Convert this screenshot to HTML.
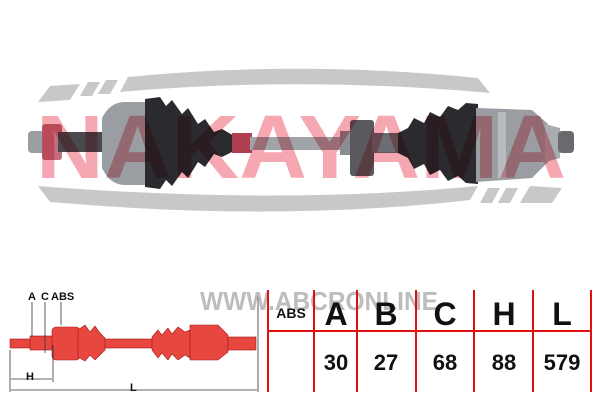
<!DOCTYPE html>
<html><head><meta charset="utf-8"><style>
html,body{margin:0;padding:0;background:#fff;}
svg{display:block}
text{font-family:"Liberation Sans",Arial,sans-serif;font-weight:bold}
</style></head><body>
<svg width="600" height="400" viewBox="0 0 600 400" xmlns="http://www.w3.org/2000/svg">
<rect width="600" height="400" fill="#fff"/>
<g fill="#c8c8c8">
<polygon points="38,102 50,86 80,84 70,100"/>
<polygon points="80,96 88,82 100,82 92,96"/>
<polygon points="98,94 106,80 118,80 110,94"/>
<path d="M120,92 L128,77 Q300,60 478,78 L490,93 Q300,76 120,92 Z"/>
<path d="M38,186 L50,202 Q280,222 470,200 L478,186 Q280,205 38,186 Z"/>
<polygon points="480,203 488,188 500,188 492,203"/>
<polygon points="498,203 506,188 518,188 510,203"/>
<polygon points="520,203 530,186 562,188 552,203"/>
</g>
<g>
<rect x="28" y="131" width="22" height="22" rx="4" fill="#9a9ea2"/>
<rect x="42" y="124" width="20" height="36" rx="3" fill="#c07080"/>
<rect x="58" y="132" width="45" height="20" fill="#4a4a4e"/>
<path d="M102,118 Q110,102 125,102 L150,102 L150,185 L125,185 Q110,185 102,168 Z" fill="#9a9ea2"/>
<path d="M145,99 L160,97 L166,106 L172,100 L182,114 L188,108 L198,124 L205,119 L214,132 L222,129 L236,137 L236,150 L222,157 L214,154 L205,167 L198,162 L188,178 L182,172 L172,186 L166,180 L160,189 L145,187 Z" fill="#2b2b2f"/>
<rect x="232" y="133" width="20" height="20" fill="#b04050"/>
<rect x="250" y="137" width="92" height="13" fill="#a0a4a8"/>
<rect x="340" y="131" width="12" height="24" fill="#8a8e92"/>
<rect x="350" y="120" width="24" height="56" rx="3" fill="#5a5a5e"/>
<rect x="372" y="133" width="30" height="20" fill="#6a6e72"/>
<path d="M398,133 L408,128 L414,118 L424,123 L430,112 L440,117 L448,106 L458,110 L466,103 L478,104 L478,184 L466,183 L458,176 L448,181 L440,170 L430,175 L424,164 L414,169 L408,158 L398,153 Z" fill="#2b2b2f"/>
<path d="M476,108 L532,110 L548,124 L548,162 L532,178 L476,182 Z" fill="#9a9ea2"/>
<rect x="498" y="112" width="8" height="66" fill="#b8bcc0"/>
<path d="M545,124 L560,128 L560,158 L545,162 Z" fill="#a8acb0"/>
<rect x="558" y="131" width="16" height="22" rx="4" fill="#6a6a6e"/>
</g>
<text x="36" y="178" font-size="90" fill="#f6a8b2" style="mix-blend-mode:multiply" textLength="530" lengthAdjust="spacingAndGlyphs">NAKAYAMA</text>
<g fill="#e8473f" stroke="#a01818" stroke-width="0.6">
<rect x="10" y="339" width="245" height="9"/>
<rect x="30" y="336" width="25" height="14"/>
<rect x="52" y="327" width="28" height="33" rx="4"/>
<path d="M78,330 L85,325 L90,332 L95,326 L100,333 L105,338 L105,350 L100,355 L95,360 L90,355 L85,361 L78,357 Z"/>
<path d="M152,337 L158,330 L162,335 L168,328 L172,334 L178,327 L185,332 L190,330 L190,358 L185,355 L178,360 L172,354 L168,360 L162,353 L158,358 L152,350 Z"/>
<path d="M190,325 L218,325 L228,335 L228,352 L218,360 L190,360 Z"/>
<rect x="228" y="337" width="28" height="13"/>
</g>
<g stroke="#333" stroke-width="0.8" fill="none">
<line x1="32" y1="302" x2="32" y2="337"/>
<line x1="45" y1="302" x2="45" y2="353"/>
<line x1="61" y1="302" x2="61" y2="325"/>
<line x1="53" y1="345" x2="53" y2="382"/>
<line x1="10" y1="350" x2="10" y2="392"/>
<line x1="258" y1="296" x2="258" y2="392"/>
<line x1="11" y1="379" x2="52" y2="379"/>
<line x1="11" y1="390" x2="257" y2="390"/>
</g>
<text x="28" y="300" font-size="11" fill="#111">A</text>
<text x="41" y="300" font-size="11" fill="#111">C</text>
<text x="51" y="300" font-size="11" fill="#111">ABS</text>
<text x="26" y="380" font-size="11" fill="#111">H</text>
<text x="130" y="391" font-size="11" fill="#111">L</text>
<text x="200" y="310" font-size="26" fill="#bdbdbd" textLength="238" lengthAdjust="spacingAndGlyphs">WWW.ABCRONLINE</text>
<g stroke="#e01010" stroke-width="2">
<line x1="268" y1="290" x2="268" y2="392"/>
<line x1="314" y1="290" x2="314" y2="392"/>
<line x1="357" y1="290" x2="357" y2="392"/>
<line x1="416" y1="290" x2="416" y2="392"/>
<line x1="474" y1="290" x2="474" y2="392"/>
<line x1="533" y1="290" x2="533" y2="392"/>
<line x1="591" y1="290" x2="591" y2="392"/>
<line x1="268" y1="331" x2="591" y2="331"/>
</g>
<g fill="#111" text-anchor="middle">
<text x="291" y="318" font-size="14">ABS</text>
<text x="336" y="325" font-size="32">A</text>
<text x="386" y="325" font-size="32">B</text>
<text x="445" y="325" font-size="32">C</text>
<text x="504" y="325" font-size="32">H</text>
<text x="562" y="325" font-size="32">L</text>
<text x="336" y="370" font-size="22">30</text>
<text x="386" y="370" font-size="22">27</text>
<text x="445" y="370" font-size="22">68</text>
<text x="504" y="370" font-size="22">88</text>
<text x="562" y="370" font-size="22">579</text>
</g>
</svg>
</body></html>
